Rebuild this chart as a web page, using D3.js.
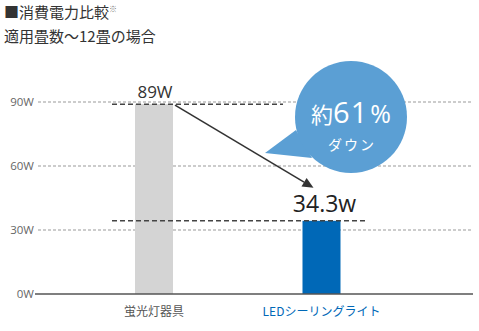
<!DOCTYPE html>
<html><head><meta charset="utf-8">
<script src="https://cdn.jsdelivr.net/npm/d3@7"></script>
<style>
body{margin:0;background:#fff;}
svg{display:block;font-family:"Noto Sans CJK JP","Noto Sans",sans-serif;}
</style></head>
<body><svg id="c" width="479" height="331"></svg>
<script>
const categories = ["蛍光灯器具", "LEDシーリングライト"];
const values = [89, 34.3];
const valueLabels = ["89W", "34.3w"];
const barColors = ["#d4d4d4", "#0068b7"];
const labelColors = ["#555555", "#0068b7"];
const tickValues = [0, 30, 60, 90];
const tickLabels = ["0W", "30W", "60W", "90W"];
const titleLine1 = "■消費電力比較";
const titleLine2 = "適用畳数～12畳の場合";
const badgeMain = ["約", "61", "%"];
const badgeSub = "ダウン";

const svg = d3.select("#c");
const y = d3.scaleLinear().domain([0, 90]).range([294, 102]);
const x = d3.scaleBand().domain(categories).range([70.25, 405.25]).paddingInner(0.7731).paddingOuter(0.3866);
const bw = 38;
const cx = d => x(d) + x.bandwidth() / 2;

// title
const t1 = svg.append("text").attr("x", 4).attr("y", 18).attr("font-size", 15).attr("fill", "#333");
t1.append("tspan").text(titleLine1);
t1.append("tspan").attr("font-size", 8).attr("dy", -6).attr("fill", "#777").text("※");
svg.append("text").attr("x", 4).attr("y", 42).attr("font-size", 15).attr("fill", "#333").text(titleLine2);

// gridlines
svg.append("g").selectAll("line").data(tickValues.filter(v => v > 0)).join("line")
  .attr("x1", 38).attr("x2", 473).attr("y1", d => y(d)).attr("y2", d => y(d))
  .attr("stroke", "#999").attr("stroke-width", 1).attr("stroke-dasharray", "3,2");

// tick labels
svg.append("g").selectAll("text").data(tickValues).join("text")
  .attr("x", 34).attr("y", d => y(d) + 4).attr("text-anchor", "end")
  .attr("font-family", "'Open Sans', sans-serif")
  .attr("font-size", 11.5).attr("fill", "#666").text((d, i) => tickLabels[i]);

// bars
svg.append("g").selectAll("rect").data(categories).join("rect")
  .attr("x", d => cx(d) - bw / 2).attr("width", bw)
  .attr("y", (d, i) => y(values[i])).attr("height", (d, i) => y(0) - y(values[i]))
  .attr("fill", (d, i) => barColors[i]);

// baseline
svg.append("line").attr("x1", 35).attr("x2", 473).attr("y1", y(0)).attr("y2", y(0))
  .attr("stroke", "#555").attr("stroke-width", 1.3);

// heavy dashed reference lines
const refEnds = [283, 367];
svg.append("g").selectAll("line").data(values).join("line")
  .attr("x1", 112).attr("x2", (d, i) => refEnds[i])
  .attr("y1", d => y(d)).attr("y2", d => y(d))
  .attr("stroke", "#444").attr("stroke-width", 1.5).attr("stroke-dasharray", "5,3");

// value labels
svg.append("text").attr("x", cx(categories[0]) + 1).attr("y", y(values[0]) - 6)
  .attr("text-anchor", "middle").attr("font-family", "'Open Sans', sans-serif")
  .attr("font-size", 17).attr("fill", "#333").text(valueLabels[0]);
svg.append("text").attr("x", cx(categories[1]) + 3).attr("y", y(values[1]) - 9)
  .attr("text-anchor", "middle").attr("font-family", "'Open Sans', sans-serif")
  .attr("font-size", 23).attr("fill", "#222").text(valueLabels[1]);

// arrow
const x0 = cx(categories[0]) + bw / 2 + 2, y0 = y(values[0]) + 1;
const x1 = cx(categories[1]) - 8, y1 = y(values[1]) - 33;
const ang = Math.atan2(y1 - y0, x1 - x0);
const hl = 11, hw = 5;
const bxp = x1 - hl * Math.cos(ang), byp = y1 - hl * Math.sin(ang);
svg.append("line").attr("x1", x0).attr("y1", y0).attr("x2", bxp).attr("y2", byp)
  .attr("stroke", "#333").attr("stroke-width", 1.6);
svg.append("path").attr("d", `M${x1},${y1} L${bxp - hw * Math.sin(ang)},${byp + hw * Math.cos(ang)} L${bxp + hw * Math.sin(ang)},${byp - hw * Math.cos(ang)} Z`)
  .attr("fill", "#333");

// badge
const bc = {x: 351, y: 117, r: 56};
const g = svg.append("g");
g.append("path").attr("d", `M265,153 L296,130 L312,158 Z`).attr("fill", "#5b9fd4");
g.append("circle").attr("cx", bc.x).attr("cy", bc.y).attr("r", bc.r).attr("fill", "#5b9fd4");
const bt = g.append("text").attr("x", bc.x).attr("y", 123).attr("text-anchor", "middle").attr("fill", "#fff");
bt.append("tspan").attr("font-size", 22).text(badgeMain[0]);
bt.append("tspan").attr("font-size", 29).attr("letter-spacing", 1).attr("font-family", "'Open Sans', sans-serif").text(badgeMain[1]);
bt.append("tspan").attr("font-size", 25).attr("dx", 2).attr("font-family", "'Open Sans', sans-serif").text(badgeMain[2]);
g.append("text").attr("x", bc.x + 1).attr("y", 150).attr("text-anchor", "middle").attr("fill", "#fff")
  .attr("font-size", 14).attr("letter-spacing", 2).text(badgeSub);

// category labels
svg.append("g").selectAll("text").data(categories).join("text")
  .attr("x", d => cx(d)).attr("y", 316).attr("text-anchor", "middle")
  .attr("font-size", 12).attr("fill", (d, i) => labelColors[i]).text(d => d);
</script></body></html>
